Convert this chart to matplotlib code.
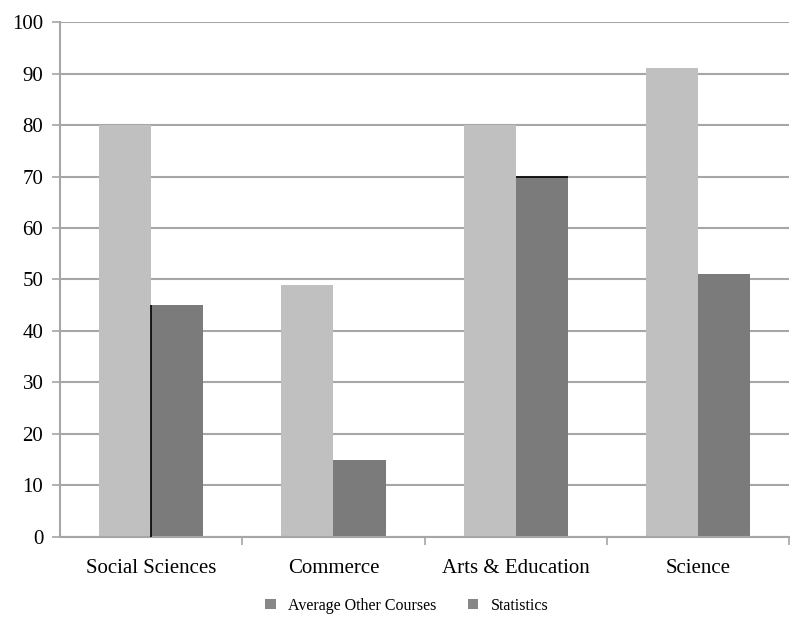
import numpy as np
import matplotlib.pyplot as plt

categories = ["Social Sciences", "Commerce", "Arts & Education", "Science"]
other_courses = [80, 49, 80, 91]
statistics = [45, 15, 70, 51]
y_ticks = [0, 10, 20, 30, 40, 50, 60, 70, 80, 90, 100]

plt.rcParams["font.family"] = ["Liberation Serif", "DejaVu Serif"]

LIGHT = "#c0c0c0"
DARK = "#7b7b7b"
AXIS = "#a6a6a6"

fig = plt.figure(figsize=(7.93, 6.29), dpi=100)
ax = fig.add_axes([0.0757, 0.1463, 0.9193, 0.8187])

x = np.arange(len(categories))
w = 0.286

ax.bar(x - w / 2, other_courses, width=w, color=LIGHT, label="Average Other Courses", zorder=2)
ax.bar(x + w / 2, statistics, width=w, color=DARK, label="Statistics", zorder=2)

# thin dark edge lines visible in the original
ax.vlines(x[0], 0, statistics[0], color="black", linewidth=1.2, zorder=3)
ax.hlines(statistics[2], x[2], x[2] + w, color="black", linewidth=1.2, zorder=3)

ax.set_xlim(-0.5, len(categories) - 0.5)
ax.set_ylim(0, 100)

ax.set_yticks(y_ticks)
ax.set_yticklabels([str(v) for v in y_ticks], fontsize=15)
ax.set_xticks(x)
ax.set_xticklabels(categories, fontsize=15)
ax.set_xticks(np.arange(len(categories)) + 0.5, minor=True)

ax.tick_params(axis="x", which="major", length=0, pad=16)
ax.tick_params(axis="x", which="minor", length=6, width=1.2, color=AXIS, direction="out")
ax.tick_params(axis="y", length=6, width=1.2, color=AXIS, pad=6)

ax.yaxis.grid(True, color=AXIS, linewidth=1.5, zorder=1)
ax.set_axisbelow(True)

for side in ["top", "right"]:
    ax.spines[side].set_visible(False)
for side in ["left", "bottom"]:
    ax.spines[side].set_color(AXIS)
    ax.spines[side].set_linewidth(1.5)

handles, labels = ax.get_legend_handles_labels()
leg = fig.legend(handles, labels, loc="center", bbox_to_anchor=(0.513, 0.037),
                 ncol=2, frameon=False, fontsize=11.5, handlelength=0.65,
                 handleheight=0.65, columnspacing=2.0, handletextpad=0.75)
for patch in leg.get_patches():
    patch.set_facecolor("#878787")

fig.savefig("out.png", dpi=100)
